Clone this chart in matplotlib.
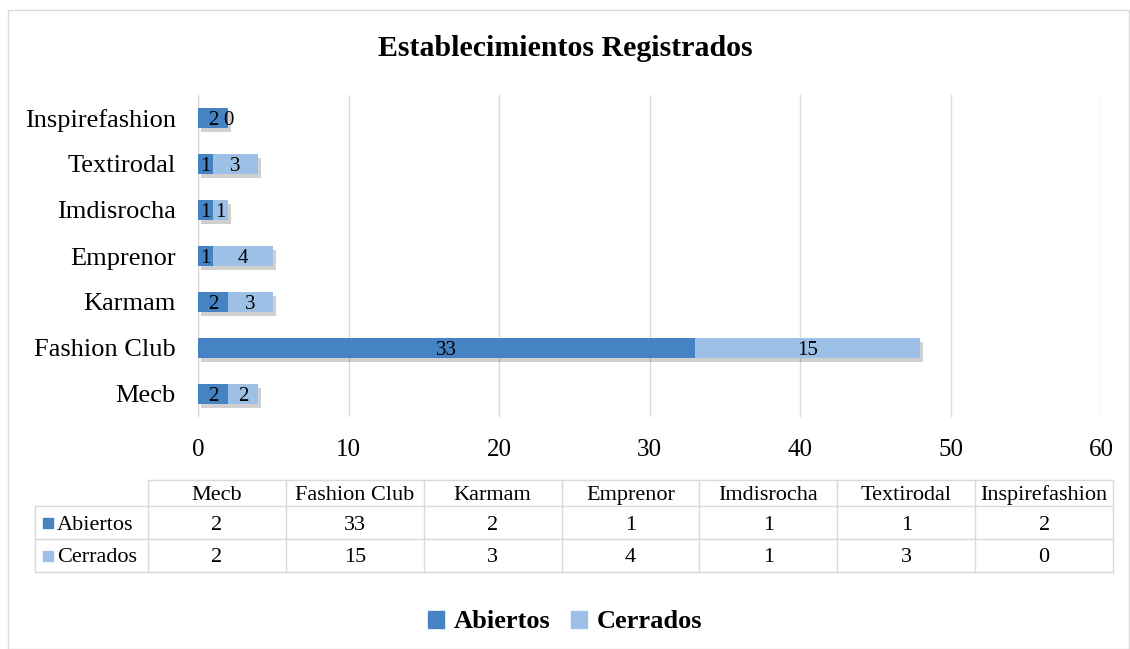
import numpy as np
import matplotlib.pyplot as plt
from matplotlib import patheffects as pe
from matplotlib.patches import Rectangle

plt.rcParams['font.family'] = ['Liberation Serif', 'DejaVu Serif']

categories = ['Mecb', 'Fashion Club', 'Karmam', 'Emprenor', 'Imdisrocha', 'Textirodal', 'Inspirefashion']
abiertos = [2, 33, 2, 1, 1, 1, 2]
cerrados = [2, 15, 3, 4, 1, 3, 0]
series_names = ['Abiertos', 'Cerrados']
colors = ['#4683c2', '#9dc0e7']
xticks = [0, 10, 20, 30, 40, 50, 60]

fig = plt.figure(figsize=(11.3, 6.49), dpi=100)

# outer chart border
fig.patches.append(Rectangle((8 / 1130, 0.0), 1 - 9 / 1130, 1 - 10 / 649, transform=fig.transFigure,
                             fill=False, edgecolor='#d9d9d9', linewidth=1))

ax = fig.add_axes([198 / 1130, 1 - 417 / 649, 903 / 1130, 322 / 649])
y = np.arange(len(categories))
shadow = [pe.SimplePatchShadow(offset=(2, -3), alpha=0.25, shadow_rgbFace='#444444'), pe.Normal()]
b1 = ax.barh(y, abiertos, height=0.43, color=colors[0], path_effects=shadow, zorder=3)
b2 = ax.barh(y, cerrados, left=abiertos, height=0.43, color=colors[1], path_effects=shadow, zorder=3)

for bars in (b1, b2):
    for r in bars:
        w = r.get_width()
        ax.text(r.get_x() + w / 2, r.get_y() + r.get_height() / 2, f'{int(w)}',
                ha='center', va='center_baseline', fontsize=15, zorder=4)

ax.set_xlim(0, 60)
ax.set_ylim(-0.5, len(categories) - 0.5)
ax.set_xticks(xticks)
ax.set_yticks(y)
ax.set_yticklabels(categories, fontsize=19)
ax.tick_params(axis='x', labelsize=18, length=0, pad=16)
ax.tick_params(axis='y', length=0, pad=16)
ax.grid(axis='x', color='#d9d9d9', linewidth=1, zorder=0)
for s in ax.spines.values():
    s.set_visible(False)
ax.axvline(0, color='#d9d9d9', linewidth=1, zorder=1)

fig.text(0.5, 1 - 48 / 649, 'Establecimientos Registrados', ha='center', va='center',
         fontsize=21.5, fontweight='bold')

# data table under the chart
ta = fig.add_axes([0, 0, 1, 1])
ta.set_xlim(0, 1130)
ta.set_ylim(649, 0)
ta.axis('off')
edges = np.linspace(148, 1113, len(categories) + 1)
rows = [480, 506, 539, 572]
lc = '#d9d9d9'
ta.plot([edges[0], edges[-1]], [rows[0], rows[0]], color=lc, lw=1)
for r in rows[1:]:
    ta.plot([35, edges[-1]], [r, r], color=lc, lw=1)
ta.plot([35, 35], [rows[1], rows[-1]], color=lc, lw=1)
for e in edges:
    ta.plot([e, e], [rows[0], rows[-1]], color=lc, lw=1)
for i, c in enumerate(categories):
    xc = (edges[i] + edges[i + 1]) / 2
    ta.text(xc, (rows[0] + rows[1]) / 2, c, ha='center', va='center_baseline', fontsize=16)
    for j, vals in enumerate((abiertos, cerrados)):
        ta.text(xc, (rows[j + 1] + rows[j + 2]) / 2, str(vals[i]), ha='center', va='center_baseline',
                fontsize=16)
for j, name in enumerate(series_names):
    yc = (rows[j + 1] + rows[j + 2]) / 2
    ta.add_patch(Rectangle((43, yc - 5), 10, 10, color=colors[j]))
    ta.text(57, yc, name, ha='left', va='center_baseline', fontsize=16)

# legend
handles = [Rectangle((0, 0), 1, 1, color=c) for c in colors]
fig.legend(handles, series_names, loc='center', bbox_to_anchor=(0.5, 1 - 622 / 649), ncol=2,
           frameon=False, prop={'size': 19, 'weight': 'bold'}, handlelength=0.6, handleheight=0.6,
           handletextpad=0.35, columnspacing=0.8)

fig.savefig('out.png', dpi=100)
